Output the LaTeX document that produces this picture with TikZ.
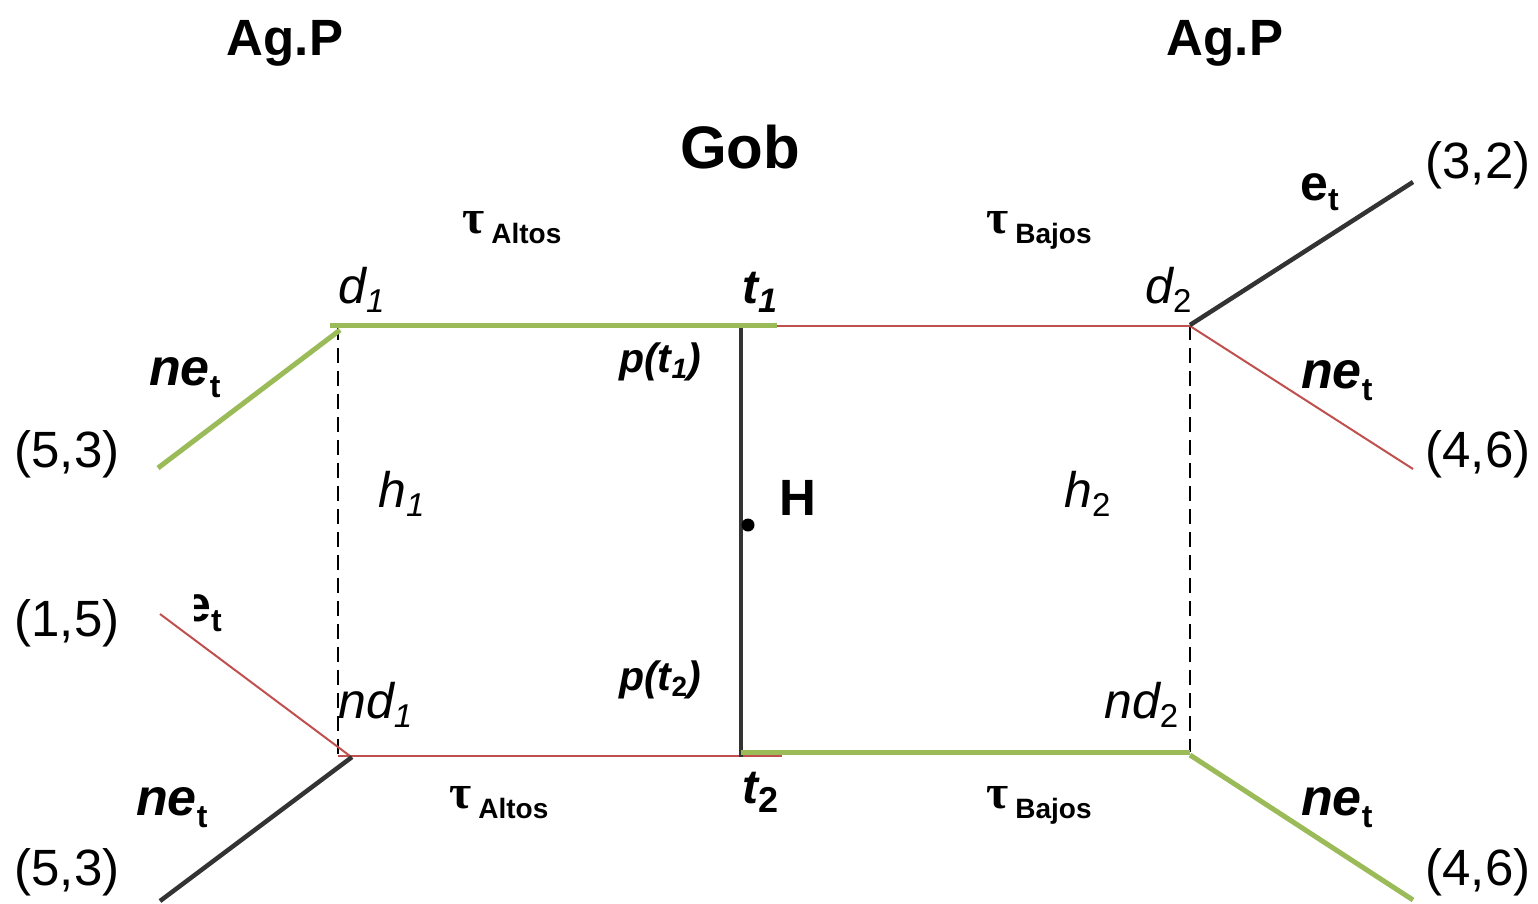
\documentclass[tikz,border=0pt]{standalone}
\usepackage{fontspec}
\setmainfont{Liberation Sans}
\newfontfamily\taufont{Liberation Serif}
\definecolor{lgreen}{RGB}{155,187,89}
\definecolor{lred}{RGB}{192,80,77}
\definecolor{dgray}{RGB}{51,51,51}
\newcommand\fs[1]{\fontsize{#1}{#1}\selectfont}
% subscript lowered below the baseline
\newcommand\lowsub[3]{\raisebox{-#1pt}{\fs{#2}#3}}
% tax rate label: tau with a group name as subscript
\newcommand\taulbl[1]{{\taufont\bfseries\fs{48}τ}\hspace{7pt}\lowsub{10}{28}{\bfseries #1}}
\newcommand\netlbl{{\fs{52}\bfseries\itshape ne}\lowsub{12}{32}{\bfseries t}}
\newcommand\etlbl{{\fs{50}\bfseries e}\lowsub{10}{32}{\bfseries t}}
\begin{document}
\begin{tikzpicture}[x=1pt,y=-1pt,
  greenline/.style={draw=lgreen,line width=5pt},
  redline/.style={draw=lred,line width=2pt},
  darkline/.style={draw=dgray,line width=4.5pt},
  guide/.style={draw=black,line width=2pt,dash pattern=on 15pt off 8pt},
  lab/.style={inner sep=0pt,anchor=base west},
  cen/.style={inner sep=0pt,anchor=base}]
\useasboundingbox (0,0) rectangle (1538,903);

% corner points of the two boxes
\coordinate (d1) at (338,325);
\coordinate (d1g) at (330,325);
\coordinate (t1) at (741,325);
\coordinate (t1v) at (741,328);
\coordinate (t1g) at (777,325);
\coordinate (t1r) at (777,326);
\coordinate (d2) at (1190,326);
\coordinate (d2b) at (1190,325);
\coordinate (nd1) at (338,756);
\coordinate (nd1r) at (350,756);
\coordinate (nd1k) at (352,757);
\coordinate (t2) at (741,757);
\coordinate (t2g) at (741,752);
\coordinate (t2r) at (782,756);
\coordinate (nd2) at (1190,752);
\coordinate (nd2g) at (1190,755);
\coordinate (lgA) at (340,330);
% free ends of the outer strategy lines
\coordinate (e53a) at (158,468);
\coordinate (e15) at (160,614);
\coordinate (e53b) at (160,901);
\coordinate (e32) at (1413,182);
\coordinate (e46a) at (1413,469);
\coordinate (e46b) at (1413,900);

% information sets (dashed)
\draw[guide] (d1) -- (nd1);
\draw[guide] (d2b) -- (nd2);

% thin red branches
\draw[redline] (t1r) -- (d2);
\draw[redline] (d2) -- (e46a);
\draw[redline] (e15) -- (nd1r);
\draw[redline] (nd1) -- (t2r);

% dark branches
\draw[darkline] (t1v) -- (t2);
\draw[darkline] (e53b) -- (nd1k);
\draw[darkline] (d2b) -- (e32);

% green (chosen) branches
\draw[greenline] (d1g) -- (t1g);
\draw[greenline] (e53a) -- (lgA);
\draw[greenline] (t2g) -- (nd2);
\draw[greenline] (nd2g) -- (e46b);

% central point
\fill (748,525) circle (6.5pt);

% players
\node[cen,font=\fs{51}\bfseries] (agp1) at (285,55) {Ag.P};
\node[cen,font=\fs{51}\bfseries] (agp2) at (1225,55) {Ag.P};
\node[cen,font=\fs{60}\bfseries] (gob) at (740,168) {Gob};

% tax labels
\node[lab] (tauA1) at (462,233) {\taulbl{Altos}};
\node[lab] (tauB1) at (986,233) {\taulbl{Bajos}};
\node[lab] (tauA2) at (449,808) {\taulbl{Altos}};
\node[lab] (tauB2) at (986,808) {\taulbl{Bajos}};

% node labels
\node[lab] (ld1) at (338,303) {{\fs{50}\itshape d}\lowsub{9}{33}{\itshape 1}};
\node[lab] (lt1) at (742,303) {{\fs{48}\bfseries\itshape t}\lowsub{9}{34}{\bfseries\itshape 1}};
\node[lab] (ld2) at (1145,303) {{\fs{50}\itshape d}\lowsub{9}{33}{2}};
\node[lab] (lpt1) at (619,372) {{\fs{41}\bfseries\itshape p(t}\lowsub{6}{28}{\bfseries\itshape 1}{\fs{41}\bfseries\itshape )}};
\node[lab] (lpt2) at (619,690) {{\fs{41}\bfseries\itshape p(t}\lowsub{6}{28}{\bfseries 2}{\fs{41}\bfseries\itshape )}};
\node[lab] (lh1) at (378,507) {{\fs{50}\itshape h}\lowsub{9}{33}{\itshape 1}};
\node[lab] (lh2) at (1064,507) {{\fs{50}\itshape h}\lowsub{9}{33}{2}};
\node[lab,font=\fs{51}\bfseries] (lH) at (779,515) {H};
\node[lab] (lnd1) at (338,718) {{\fs{50}\itshape nd}\lowsub{9}{33}{\itshape 1}};
\node[lab] (lnd2) at (1104,718) {{\fs{50}\itshape nd}\lowsub{9}{33}{2}};
\node[lab] (lt2) at (742,803) {{\fs{48}\bfseries\itshape t}\lowsub{9}{36}{\bfseries 2}};

% strategy labels
\node[lab] (ne1) at (149,385) {\netlbl};
\node[lab] (ne2) at (1301,388) {\netlbl};
\node[lab] (ne3) at (136,815) {\netlbl};
\node[lab] (ne4) at (1301,815) {\netlbl};
\node[lab] (et1) at (1300,200) {\etlbl};
\begin{scope}
  \clip (194,580) rectangle (240,650);
  \node[lab] (et2) at (183,621) {\etlbl};
\end{scope}

% payoffs
\node[cen,font=\fs{51}] (p1) at (67,467) {(5,3)};
\node[cen,font=\fs{51}] (p2) at (67,636) {(1,5)};
\node[cen,font=\fs{51}] (p3) at (67,885) {(5,3)};
\node[cen,font=\fs{51}] (p4) at (1478,178) {(3,2)};
\node[cen,font=\fs{51}] (p5) at (1478,467) {(4,6)};
\node[cen,font=\fs{51}] (p6) at (1478,885) {(4,6)};
\end{tikzpicture}
\end{document}
